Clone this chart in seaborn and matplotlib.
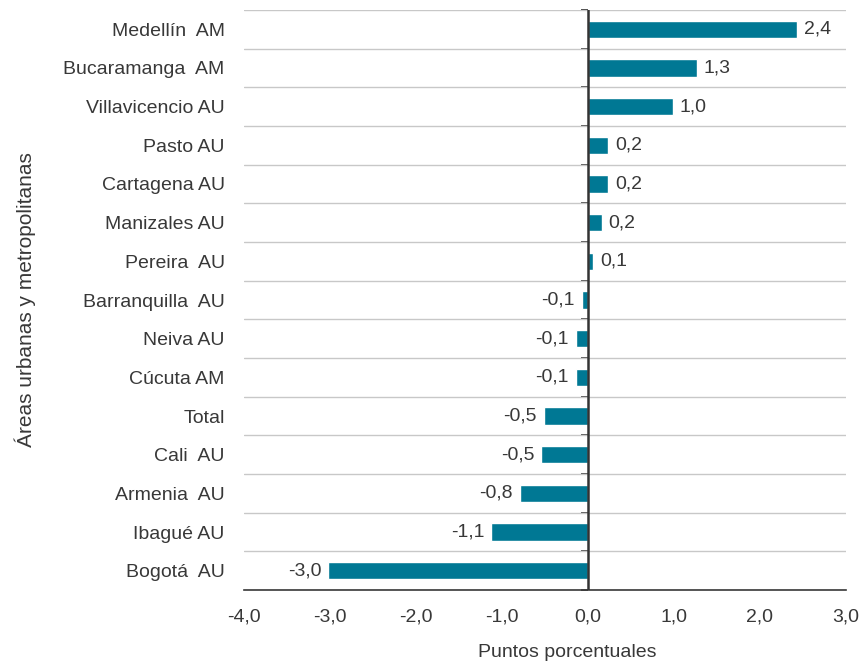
import numpy as np
import pandas as pd
import seaborn as sns
import matplotlib.pyplot as plt
from matplotlib.ticker import FuncFormatter

areas = ['Medellín  AM', 'Bucaramanga  AM', 'Villavicencio AU', 'Pasto AU',
         'Cartagena AU', 'Manizales AU', 'Pereira  AU', 'Barranquilla  AU',
         'Neiva AU', 'Cúcuta AM', 'Total', 'Cali  AU', 'Armenia  AU',
         'Ibagué AU', 'Bogotá  AU']
puntos = [2.43, 1.27, 0.99, 0.24, 0.24, 0.16, 0.06, -0.07,
          -0.14, -0.14, -0.51, -0.54, -0.79, -1.12, -3.02]
xticks = [-4, -3, -2, -1, 0, 1, 2, 3]

df = pd.DataFrame({'area': areas, 'pp': puntos})

sns.set_style('white')
plt.rcParams['font.family'] = ['Liberation Sans', 'DejaVu Sans']
txt = '#383838'
azul = '#007894'
fs = 14

fig = plt.figure(figsize=(8.62, 6.63), dpi=100)
ax = fig.add_axes([0.283, 0.110, 0.698, 0.875])

sns.barplot(data=df, x='pp', y='area', orient='h', color=azul,
            saturation=1, width=0.45, ax=ax)

ax.set_xlim(-4, 3)
ax.set_ylim(len(areas) - 0.5, -0.5)
ax.set_xticks(xticks)
ax.xaxis.set_major_formatter(FuncFormatter(lambda v, p: f'{v:.1f}'.replace('.', ',')))

# separadores entre categorias
ax.set_yticks(np.arange(-0.5, len(areas), 1), minor=True)
ax.grid(axis='y', which='minor', color='#c8c8c8', linewidth=1)
ax.grid(axis='x', visible=False)
ax.tick_params(axis='y', which='both', length=0, labelsize=fs, labelcolor=txt, pad=14)
ax.tick_params(axis='x', which='major', length=5, width=1, color=txt,
               direction='out', labelsize=fs, labelcolor=txt, pad=8)

for s in ['top', 'right', 'left']:
    ax.spines[s].set_visible(False)
ax.spines['bottom'].set_color(txt)
ax.spines['bottom'].set_linewidth(1.2)

# eje vertical en cero
ax.axvline(0, color='#333333', linewidth=1.8, zorder=5)
sec = ax.secondary_yaxis(4 / 7)
sec.set_yticks(np.arange(-0.5, len(areas), 1))
sec.set_yticklabels([])
sec.yaxis.set_ticks_position('left')
sec.tick_params(axis='y', length=5, width=1.2, color='#333333', direction='out')
for s in sec.spines.values():
    s.set_visible(False)

labels = [f'{v:.1f}'.replace('.', ',') for v in puntos]
ax.bar_label(ax.containers[0], labels=labels, padding=5, fontsize=fs, color=txt)

ax.set_xlabel('Puntos porcentuales', fontsize=fs, color=txt)
ax.xaxis.set_label_coords(0.538, -0.093)
ax.set_ylabel('Áreas urbanas y metropolitanas', fontsize=15, color=txt)
ax.yaxis.set_label_coords(-0.346, 0.5)

fig.savefig('out.png', dpi=100)
